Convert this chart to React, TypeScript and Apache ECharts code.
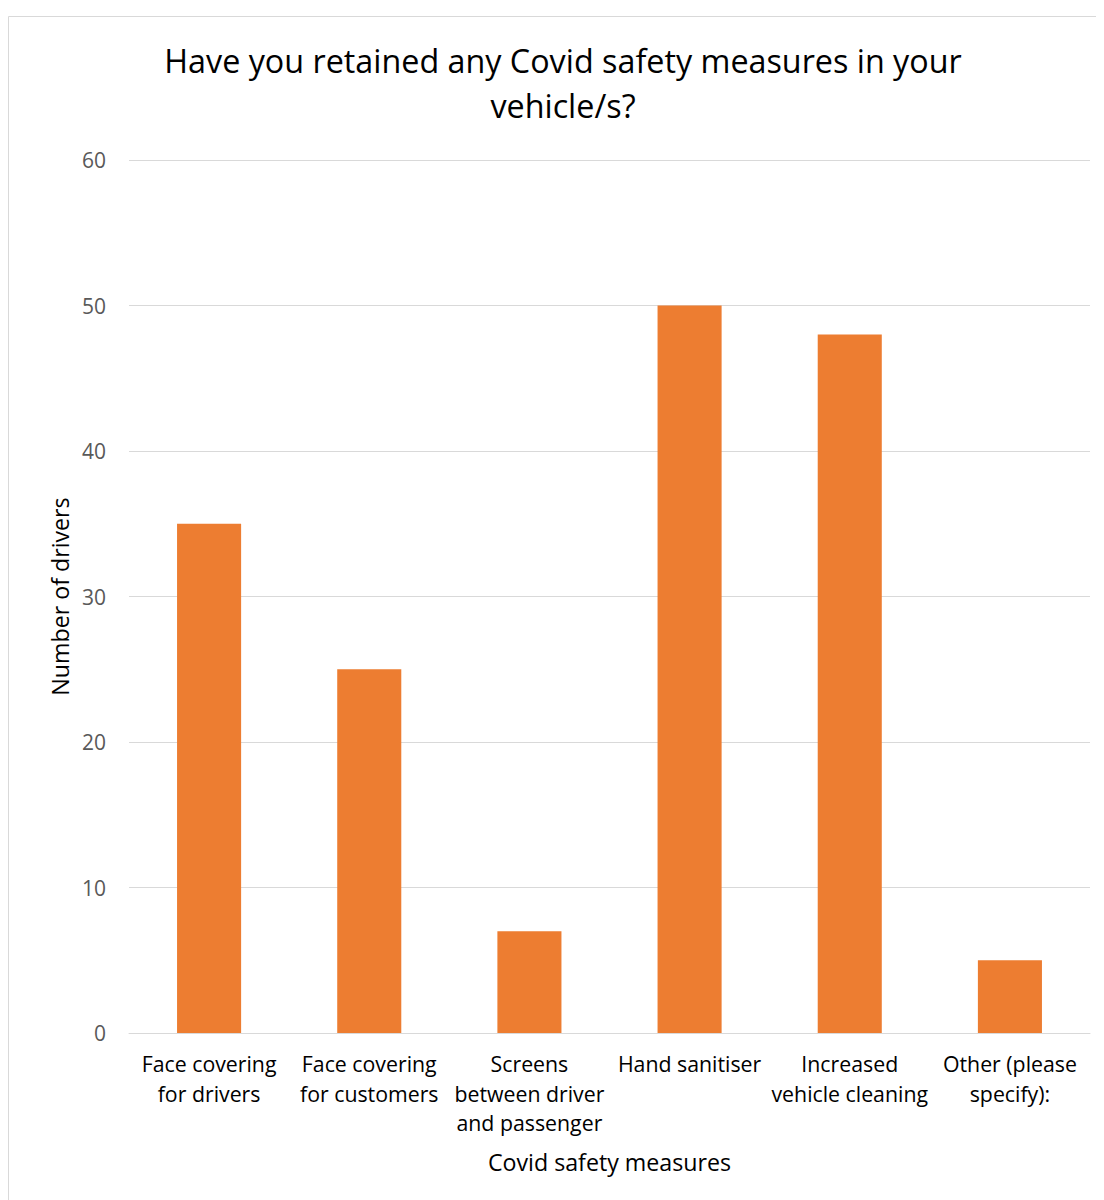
import React, { useEffect, useRef } from "react";
import * as echarts from "echarts";

// Survey answers: how many drivers kept each Covid safety measure
const categories = [
  "Face covering\nfor drivers",
  "Face covering\nfor customers",
  "Screens\nbetween driver\nand passenger",
  "Hand sanitiser",
  "Increased\nvehicle cleaning",
  "Other (please\nspecify):",
];
const driverCounts = [35, 25, 7, 50, 48, 5];
const yTicks = { min: 0, max: 60, interval: 10 };

const titleLines = [
  "Have you retained any Covid safety measures in your",
  "vehicle/s?",
];

const FONT = "'Open Sans', Lato, sans-serif";

export default function App() {
  const ref = useRef<HTMLDivElement>(null);

  useEffect(() => {
    if (!ref.current) return;
    const chart = echarts.init(ref.current, undefined, { renderer: "svg" });
    chart.setOption({
      animation: false,
      backgroundColor: "#ffffff",
      textStyle: { fontFamily: FONT },
      graphic: [
        {
          type: "rect",
          shape: { x: 0.5, y: 8.5, width: 2000, height: 2000 },
          style: { fill: "none", stroke: "#d9d9d9", lineWidth: 1 },
          silent: true,
        },
        ...titleLines.map((line, i) => ({
          type: "text",
          x: 555,
          y: 52 + i * 45,
          style: {
            text: line,
            fontFamily: FONT,
            fontSize: 32.3,
            fill: "#000000",
            textAlign: "center",
            textVerticalAlign: "middle",
          },
        })),
      ],
      grid: { left: 121, right: 14, top: 152, bottom: 167 },
      xAxis: {
        type: "category",
        data: categories,
        name: "Covid safety measures",
        nameLocation: "middle",
        nameGap: 117,
        nameTextStyle: { fontSize: 23.2, color: "#000000", fontFamily: FONT },
        axisLine: { show: true, lineStyle: { color: "#d9d9d9", width: 1 } },
        axisTick: { show: false },
        axisLabel: {
          interval: 0,
          margin: 16,
          fontSize: 21.3,
          lineHeight: 29.5,
          color: "#000000",
          fontFamily: FONT,
          verticalAlign: "top",
        },
      },
      yAxis: {
        type: "value",
        min: yTicks.min,
        max: yTicks.max,
        interval: yTicks.interval,
        name: "Number of drivers",
        nameLocation: "middle",
        nameGap: 58,
        nameRotate: 90,
        nameTextStyle: { fontSize: 23.2, color: "#000000", fontFamily: FONT },
        axisLine: { show: false },
        axisTick: { show: false },
        axisLabel: {
          margin: 23,
          fontSize: 21,
          color: "#595959",
          fontFamily: FONT,
        },
        splitLine: { lineStyle: { color: "#d9d9d9", width: 1 } },
      },
      series: [
        {
          type: "bar",
          data: driverCounts,
          barCategoryGap: "60%",
          itemStyle: { color: "#ED7D31" },
        },
      ],
    });
    return () => chart.dispose();
  }, []);

  return <div ref={ref} style={{ width: 1096, height: 1192 }} />;
}
